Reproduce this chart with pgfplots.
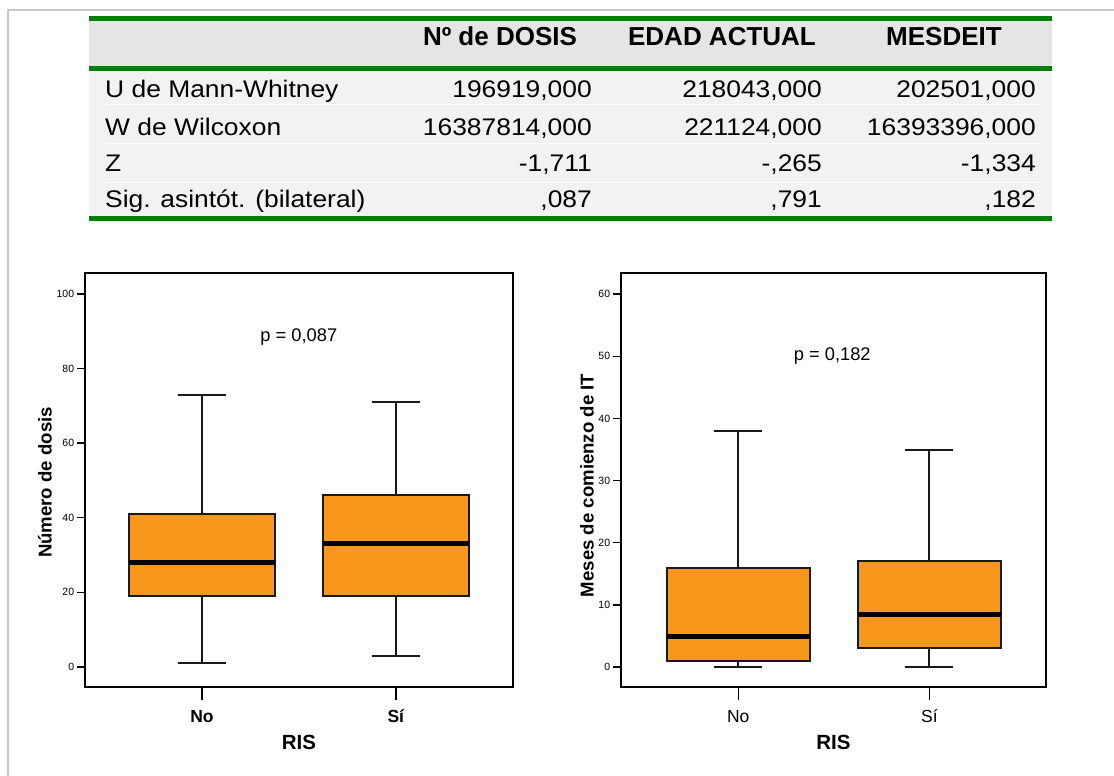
\documentclass[border=0pt]{standalone}
\usepackage{fontspec}
\setmainfont{Liberation Sans}
\usepackage{graphicx}
\usepackage{pgfplots}
\pgfplotsset{compat=1.18}
\usepgfplotslibrary{statistics}
\definecolor{boxor}{RGB}{247,152,29}
\definecolor{tgreen}{RGB}{0,128,0}
\definecolor{hdrgrey}{RGB}{229,229,229}
\definecolor{bodygrey}{RGB}{242,242,242}
\definecolor{bordergrey}{RGB}{200,200,200}
\newcommand{\bodyfont}{\fontsize{24}{28}\selectfont}
\newcommand{\hdrfont}{\fontsize{26}{30}\selectfont\bfseries}
\newcommand{\T}[1]{\scalebox{1.1}[1]{#1}}
\pgfplotsset{
  myax/.style={
    scale only axis, anchor=south west, height=414pt,
    axis line style={line width=1.8pt, black},
    tick style={line width=1.4pt, black},
    tick align=outside, ytick pos=left, xtick pos=bottom,
    major tick length=7.7pt,
    xtick=\empty,
    extra x ticks={1,2},
    extra x tick style={major tick length=13pt},
    yticklabel style={font=\fontsize{10.5}{12}\selectfont, inner sep=0pt, xshift=-3pt},
    /pgf/number format/assume math mode=true,
    xticklabel style={font=\fontsize{17.5}{20}\selectfont, anchor=base, yshift=-22pt},
    xlabel style={font=\fontsize{20.5}{24}\selectfont\bfseries, at={(axis description cs:0.5,-0.1498)}, anchor=base},
    ylabel style={font=\fontsize{18.6}{22}\selectfont\bfseries, anchor=center},
    boxplot/every median/.style={line width=5pt, black},
  },
  bx/.style={fill=boxor, draw=black!90, line width=2pt},
}
\begin{document}
\begin{tikzpicture}
\path[use as bounding box] (0pt,0pt) rectangle (1114pt,-776pt);
\fill[white] (0pt,0pt) rectangle (1114pt,-776pt);
\draw[bordergrey, line width=1.5pt] (8pt,-776pt) -- (8pt,-10pt) -- (1114pt,-10pt);
% table
\fill[hdrgrey] (89pt,-21pt) rectangle (1052pt,-66pt);
\fill[bodygrey] (89pt,-71pt) rectangle (1052pt,-216pt);
\foreach \yy in {104,143,182}{
  \draw[white, line width=0.8pt] (105pt,-\yy pt) -- (1040pt,-\yy pt);
}
\draw[tgreen, line width=4.5pt] (89pt,-18.5pt) -- (1052pt,-18.5pt);
\draw[tgreen, line width=5pt] (89pt,-68.5pt) -- (1052pt,-68.5pt);
\draw[tgreen, line width=5pt] (89pt,-218.5pt) -- (1052pt,-218.5pt);
\node[anchor=base, inner sep=0pt, font=\hdrfont] at (500pt,-46pt) {Nº de DOSIS};
\node[anchor=base, inner sep=0pt, font=\hdrfont] at (722pt,-46pt) {EDAD ACTUAL};
\node[anchor=base, inner sep=0pt, font=\hdrfont] at (944pt,-46pt) {MESDEIT};
\foreach \yy/\lab/\a/\b/\c in {
  97/{U de Mann-Whitney}/{196919,000}/{218043,000}/{202501,000},
  135/{W de Wilcoxon}/{16387814,000}/{221124,000}/{16393396,000},
  171/{Z}/{-1,711}/{-,265}/{-1,334},
  207/{Sig. asintót. (bilateral)}/{,087}/{,791}/{,182}}{
  \node[anchor=base west, inner sep=0pt, font=\bodyfont] at (105pt,-\yy pt) {\T{\lab}};
  \node[anchor=base east, inner sep=0pt, font=\bodyfont] at (592pt,-\yy pt) {\T{\a}};
  \node[anchor=base east, inner sep=0pt, font=\bodyfont] at (822pt,-\yy pt) {\T{\b}};
  \node[anchor=base east, inner sep=0pt, font=\bodyfont] at (1036pt,-\yy pt) {\T{\c}};
}
% left boxplot
\begin{axis}[myax, at={(85pt,-687pt)}, width=428pt,
  xmin=0.397, xmax=2.603, ymin=-5.4, ymax=105.6,
  ytick={0,20,40,60,80,100},
  extra x tick labels={\textbf{No},\textbf{Sí}},
  xlabel={RIS}, ylabel={Número de dosis},
  ylabel style={at={(axis description cs:-0.0935,0.494)}},
]
\addplot[bx, boxplot prepared={draw direction=y, draw position=1, box extend=0.75, whisker extend=0.25,
    lower whisker=1, lower quartile=19, median=28, upper quartile=41, upper whisker=73}] coordinates {};
\addplot[bx, boxplot prepared={draw direction=y, draw position=2, box extend=0.75, whisker extend=0.25,
    lower whisker=3, lower quartile=19, median=33, upper quartile=46, upper whisker=71}] coordinates {};
\node[anchor=base west, inner sep=0pt, font=\fontsize{18.3}{22}\selectfont] at (axis cs:1.3,87.2) {p = 0,087};
\end{axis}
% right boxplot
\begin{axis}[myax, at={(621pt,-687pt)}, width=425pt,
  xmin=0.387, xmax=2.61, ymin=-3.2, ymax=63.4,
  ytick={0,10,20,30,40,50,60},
  extra x tick labels={No,Sí},
  xlabel={RIS}, ylabel={Meses de comienzo de IT},
  ylabel style={at={(axis description cs:-0.08,0.487)}},
]
\addplot[bx, boxplot prepared={draw direction=y, draw position=1, box extend=0.75, whisker extend=0.25,
    lower whisker=0, lower quartile=1, median=5, upper quartile=16, upper whisker=38}] coordinates {};
\addplot[bx, boxplot prepared={draw direction=y, draw position=2, box extend=0.75, whisker extend=0.25,
    lower whisker=0, lower quartile=3, median=8.5, upper quartile=17, upper whisker=35}] coordinates {};
\node[anchor=base west, inner sep=0pt, font=\fontsize{18.3}{22}\selectfont] at (axis cs:1.29,49.3) {p = 0,182};
\end{axis}
\end{tikzpicture}
\end{document}
